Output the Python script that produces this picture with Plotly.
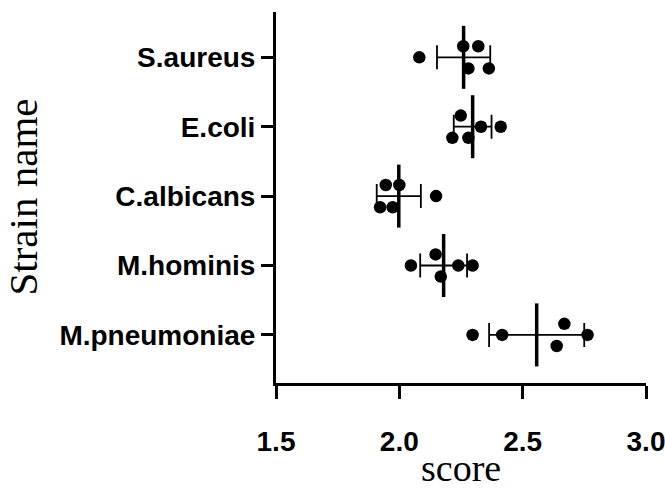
import numpy as np
import plotly.graph_objects as go

strains = ["S.aureus", "E.coli", "C.albicans", "M.hominis", "M.pneumoniae"]

s_aureus = [2.081, 2.259, 2.320, 2.280, 2.363]
e_coli = [2.249, 2.215, 2.280, 2.331, 2.411]
c_albicans = [1.945, 2.000, 1.922, 1.973, 2.149]
m_hominis = [2.047, 2.147, 2.168, 2.239, 2.297]
m_pneumoniae = [2.297, 2.417, 2.669, 2.638, 2.763]

x_ticks = [1.5, 2.0, 2.5, 3.0]

# vertical scatter offsets of dots (style: point spread within a row)
spread = [
    [0, -1, -1, 1, 1],
    [-1, 1, 1, 0, 0],
    [-1, -1, 1, 1, 0],
    [0, -1, 1, 0, 0],
    [0, 0, -1, 1, 0],
]
SPREAD_STEP = 0.16

series = [s_aureus, e_coli, c_albicans, m_hominis, m_pneumoniae]

fig = go.Figure()

means = [float(np.mean(v)) for v in series]
sds = [float(np.std(v, ddof=1)) for v in series]

# error bars (mean ± SD) with caps
fig.add_trace(go.Scatter(
    x=means, y=list(range(len(strains))), mode="markers",
    marker=dict(symbol="line-ns", size=45, color="black",
                line=dict(color="black", width=3.5)),
    error_x=dict(type="data", array=sds, symmetric=True, color="black",
                 thickness=1.8, width=12),
    showlegend=False, hoverinfo="skip",
))

for i, vals in enumerate(series):
    ys = [i + SPREAD_STEP * s for s in spread[i]]
    fig.add_trace(go.Scatter(
        x=vals, y=ys, mode="markers",
        marker=dict(symbol="circle", size=12.5, color="black"),
        showlegend=False, name=strains[i],
    ))

fig.update_layout(
    width=665, height=493,
    margin=dict(l=276, r=19, t=12, b=110),
    paper_bgcolor="white", plot_bgcolor="white",
    font=dict(family="Liberation Sans", color="black"),
)

fig.update_xaxes(
    range=[1.5, 3.0], tickvals=x_ticks, tickformat=".1f",
    automargin=False, ticklabeloverflow="allow",
    showline=True, linecolor="black", linewidth=3,
    ticks="outside", ticklen=13, tickwidth=3, tickcolor="black",
    showgrid=False, zeroline=False,
    tickfont=dict(family="Liberation Sans", size=28, color="black", weight="bold"),
    ticklabelstandoff=18,
)

fig.update_yaxes(
    range=[4.693, -0.653], tickvals=list(range(len(strains))), ticktext=strains,
    automargin=False, ticklabeloverflow="allow",
    showline=True, linecolor="black", linewidth=3,
    ticks="outside", ticklen=12, tickwidth=3, tickcolor="black",
    showgrid=False, zeroline=False,
    tickfont=dict(family="Liberation Sans", size=28, color="black", weight="bold"),
    ticklabelstandoff=0,
)

# axis titles
fig.add_annotation(text="score", xref="paper", yref="paper", x=0.5, y=0,
                   xanchor="center", yanchor="bottom", yshift=-108, showarrow=False,
                   font=dict(family="Liberation Serif", size=38, color="black"))
fig.add_annotation(text="Strain name", xref="paper", yref="paper", x=0, y=0.5,
                   xanchor="center", yanchor="middle", xshift=-254, textangle=-90,
                   showarrow=False,
                   font=dict(family="Liberation Serif", size=41, color="black"))

fig.write_html("out.html")
